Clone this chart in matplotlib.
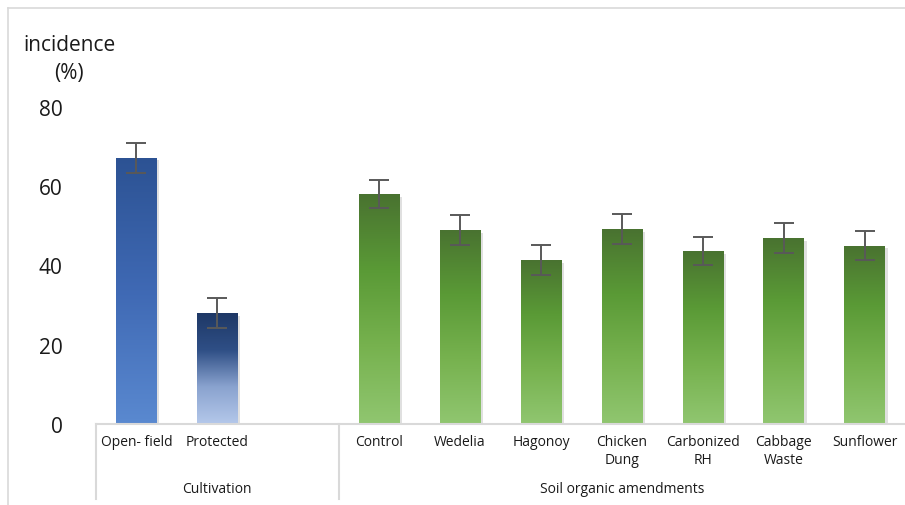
import matplotlib
matplotlib.use("Agg")
import matplotlib.pyplot as plt
import matplotlib.patheffects as pe
from matplotlib.colors import LinearSegmentedColormap
import matplotlib.transforms as mtransforms
import numpy as np

plt.rcParams['font.family'] = ['Open Sans', 'DejaVu Sans']

# disease incidence (%) by treatment
labels = ["Open- field", "Protected", "", "Control", "Wedelia", "Hagonoy",
          "Chicken\nDung", "Carbonized\nRH", "Cabbage\nWaste", "Sunflower"]
values = [67.2, 28.0, None, 58.1, 49.0, 41.4, 49.2, 43.7, 47.0, 45.0]
errors = [3.8, 3.8, None, 3.6, 3.8, 3.8, 3.8, 3.6, 3.8, 3.7]
groups = ["Cultivation", "Soil organic amendments"]
group_bounds = [(-0.5, 2.5), (2.5, 9.5)]
yticks = [0, 20, 40, 60, 80]

# vertical gradients, top colour first
grad_open = LinearSegmentedColormap.from_list("open", ["#2c5293", "#3f69b4", "#5a89d0"])
grad_prot = LinearSegmentedColormap.from_list("prot", ["#1e3866", "#2f4f86", "#8aa3cf", "#b4c8ea"])
grad_green = LinearSegmentedColormap.from_list("green", ["#497230", "#5a9a36", "#77b24f", "#90c670"])
bar_grads = [grad_open, grad_prot, None] + [grad_green] * 7

fig = plt.figure(figsize=(9.05, 5.06), dpi=100)
ax = fig.add_axes([96 / 905, 1 - 425 / 506, 1 - 96 / 905, 317 / 506])

x = np.arange(len(labels))
# row 0 sits at the top of the bar with the default image origin
grad = np.linspace(0, 1, 256).reshape(-1, 1)
for xi, v, e, cmap in zip(x, values, errors, bar_grads):
    if v is None:
        continue
    bar = ax.bar(xi, v, width=0.5, color=cmap(0.5), zorder=2)[0]
    bar.set_path_effects([pe.SimplePatchShadow(offset=(2, -2), shadow_rgbFace="#999999", alpha=0.3),
                          pe.Normal()])
    im = ax.imshow(grad, cmap=cmap, extent=[xi - 0.25, xi + 0.25, 0, v],
                   aspect="auto", zorder=2.5, vmin=0, vmax=1)
    im.set_clip_path(bar)
    ax.errorbar(xi, v, yerr=e, color="#595959", elinewidth=1.4, capsize=7,
                capthick=1.4, zorder=3)

ax.set_aspect("auto")
ax.set_xlim(-0.5, 9.5)
ax.set_ylim(0, 80)

for s in ["top", "right", "left"]:
    ax.spines[s].set_visible(False)
ax.spines["bottom"].set_color("#d9d9d9")
ax.spines["bottom"].set_linewidth(1.5)
ax.set_xticks([])
ax.set_yticks(yticks)
ax.tick_params(axis="y", length=0, pad=24, labelsize=15, labelcolor="#1a1a1a")

# category and group labels below the axis
trans = mtransforms.blended_transform_factory(ax.transData, ax.transAxes)
for xi, lab in zip(x, labels):
    ax.text(xi, -0.033, lab, transform=trans, ha="center", va="top",
            fontsize=10, color="#1a1a1a", linespacing=1.25)
for (a, b), g in zip(group_bounds, groups):
    ax.text((a + b) / 2, -0.205, g, transform=trans, ha="center", va="center",
            fontsize=10, color="#1a1a1a")
for xb in [-0.5, 2.5]:
    ax.plot([xb, xb], [0, -0.237], transform=trans, color="#d9d9d9",
            lw=1.5, clip_on=False)

fig.text(69 / 905, 1 - 35 / 506, "incidence\n(%)", ha="center", va="top",
         fontsize=15, color="#1a1a1a", linespacing=1.45)

# chart area border
fig.add_artist(plt.Line2D([8 / 905, 8 / 905], [0, 1 - 9 / 506], color="#d9d9d9",
                          lw=1.2, transform=fig.transFigure))
fig.add_artist(plt.Line2D([8 / 905, 1], [1 - 9 / 506, 1 - 9 / 506], color="#d9d9d9",
                          lw=1.2, transform=fig.transFigure))

fig.savefig("out.png", dpi=100)
